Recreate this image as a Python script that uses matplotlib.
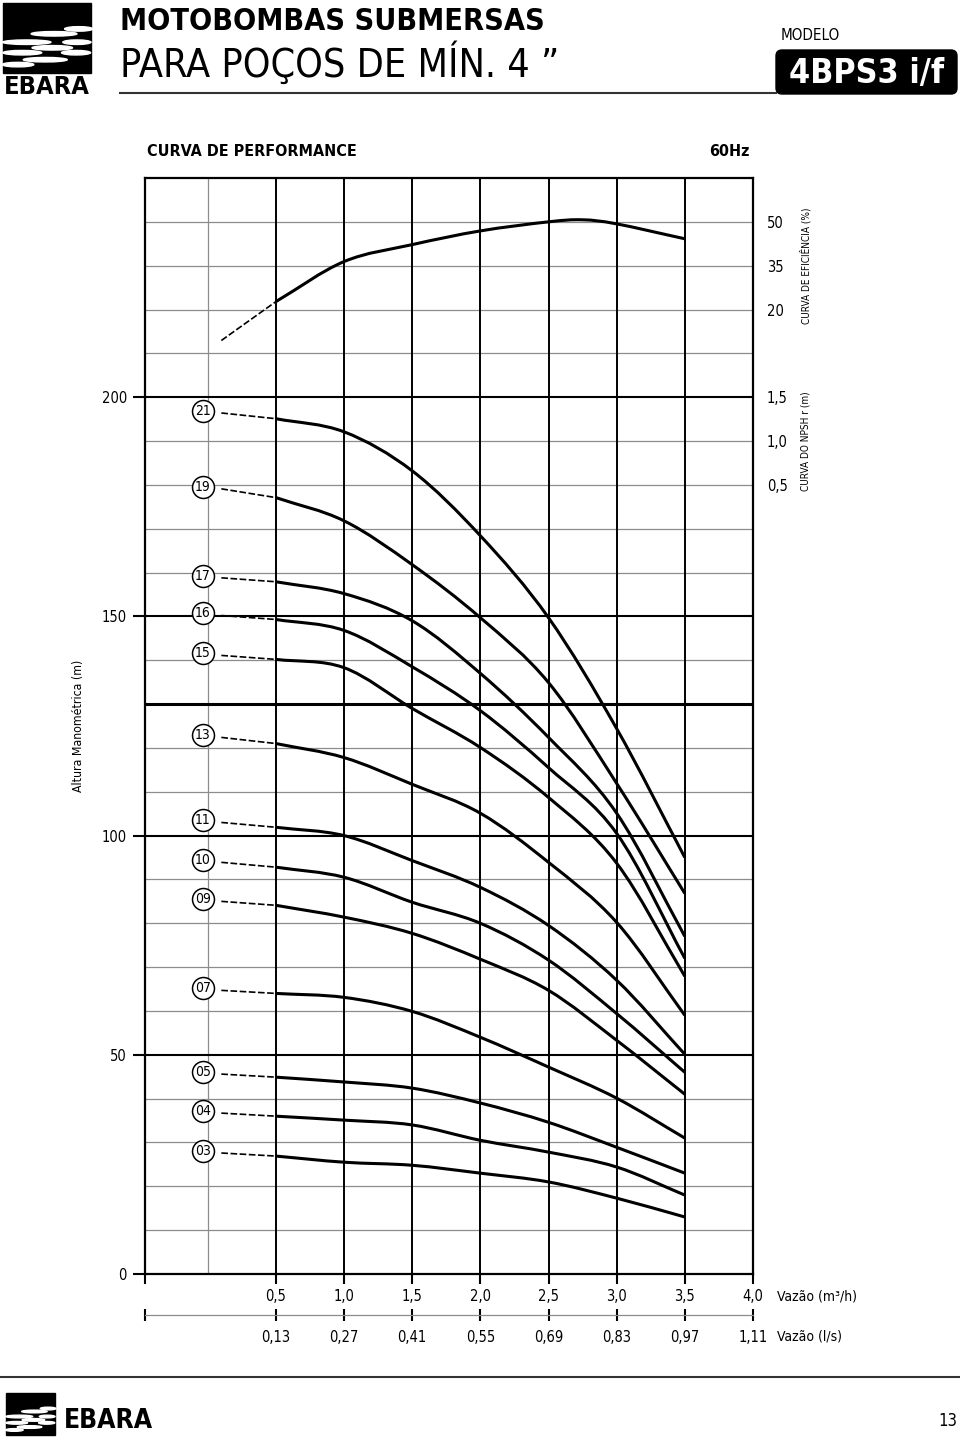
import numpy as np
import matplotlib.pyplot as plt
from matplotlib import font_manager as fm
from matplotlib.path import Path
from matplotlib.patches import PathPatch, Ellipse, FancyBboxPatch, Rectangle

# fonte condensada se existir, senão Liberation Sans
fontes = fm.fontManager.ttflist
if any(f.name == 'Liberation Sans Narrow' for f in fontes):
    plt.rcParams['font.family'] = ['Liberation Sans Narrow', 'DejaVu Sans']
elif any(f.name == 'DejaVu Sans' and f.stretch == 'condensed' for f in fontes):
    plt.rcParams['font.family'] = ['DejaVu Sans']
    plt.rcParams['font.stretch'] = 'condensed'
else:
    plt.rcParams['font.family'] = ['Liberation Sans', 'DejaVu Sans']

# vazão (m3/h) onde as curvas foram lidas
vazao = [0.5, 1.0, 1.5, 2.0, 2.5, 3.0, 3.5]
vazao_ini = 0.1      # início do trecho tracejado
x_etiqueta = -0.036  # posição dos círculos com nº de estágios

# altura manométrica (m) por nº de estágios
estagios = ["21", "19", "17", "16", "15", "13", "11", "10", "09", "07", "05", "04", "03"]
altura_ini = [196.4, 179.1, 158.8, 150.2, 141.1, 122.4, 103.0, 93.9, 85.0, 64.7, 45.6, 36.7, 27.6]
h21 = [195.1, 192.1, 183.2, 168.4, 149.7, 124.4, 95.0]
h19 = [177.1, 171.8, 161.8, 149.7, 134.9, 111.9, 86.8]
h17 = [157.9, 155.2, 149.0, 137.0, 122.4, 105.1, 77.0]
h16 = [149.3, 146.8, 138.5, 128.5, 115.5, 100.5, 72.0]
h15 = [140.2, 138.3, 129.0, 120.1, 108.7, 93.7, 67.9]
h13 = [121.0, 117.8, 111.7, 105.1, 93.9, 80.2, 59.0]
h11 = [101.9, 100.0, 94.3, 88.2, 79.5, 67.0, 50.1]
h10 = [92.8, 90.5, 84.8, 80.0, 71.6, 59.4, 46.0]
h09 = [84.1, 81.4, 77.7, 71.8, 64.7, 53.3, 41.0]
h07 = [64.0, 63.1, 59.9, 54.0, 47.2, 40.1, 31.0]
h05 = [44.9, 43.8, 42.4, 39.0, 34.6, 28.9, 23.0]
h04 = [36.0, 35.1, 34.0, 30.5, 27.8, 24.4, 18.0]
h03 = [26.9, 25.5, 24.8, 23.0, 21.0, 17.3, 13.0]
curvas = [h21, h19, h17, h16, h15, h13, h11, h10, h09, h07, h05, h04, h03]

# curva de eficiência (%)
eff_vazao = [0.1, 0.5, 1.0, 1.5, 2.0, 2.5, 2.75, 3.0, 3.5]
eff = [9.4, 22.7, 36.4, 42.2, 46.9, 50.0, 50.7, 49.3, 44.2]

# eixos
vazao_ticks = [0.5, 1.0, 1.5, 2.0, 2.5, 3.0, 3.5, 4.0]
vazao_m3h = ["0,5", "1,0", "1,5", "2,0", "2,5", "3,0", "3,5", "4,0"]
vazao_ls = ["0,13", "0,27", "0,41", "0,55", "0,69", "0,83", "0,97", "1,11"]
altura_ticks = [0, 50, 100, 150, 200]
eff_ticks = [20, 35, 50]
npsh_ticks = [0.5, 1.0, 1.5]
npsh_labels = ["0,5", "1,0", "1,5"]

XMIN = -0.46
CINZA = '#8c8c8c'


def suave(ax, xs, ys, lw=2.2):
    # catmull-rom convertido em bezier, desenhado pelo Path do matplotlib
    x = np.asarray(xs, float)
    y = np.asarray(ys, float)
    px = np.r_[2 * x[0] - x[1], x, 2 * x[-1] - x[-2]]
    py = np.r_[2 * y[0] - y[1], y, 2 * y[-1] - y[-2]]
    verts = [(x[0], y[0])]
    codes = [Path.MOVETO]
    for i in range(1, len(px) - 2):
        c1 = (px[i] + (px[i + 1] - px[i - 1]) / 6, py[i] + (py[i + 1] - py[i - 1]) / 6)
        c2 = (px[i + 1] - (px[i + 2] - px[i]) / 6, py[i + 1] - (py[i + 2] - py[i]) / 6)
        verts += [c1, c2, (px[i + 1], py[i + 1])]
        codes += [Path.CURVE4] * 3
    ax.add_patch(PathPatch(Path(verts, codes), fill=False, lw=lw, color='black',
                           joinstyle='round', capstyle='butt', zorder=4))


def logo(ov, x0, y0, w, h):
    ov.add_patch(Rectangle((x0, y0), w, h, color='black', zorder=2))
    # faixas brancas (posições relativas ao quadrado)
    faixas = [(0.86, 0.37, 0.32), (0.58, 0.44, 0.52), (0.27, 0.56, 0.55), (0.84, 0.56, 0.32),
              (0.56, 0.64, 0.46), (0.22, 0.71, 0.44), (0.83, 0.71, 0.33), (0.48, 0.81, 0.50),
              (0.17, 0.88, 0.36)]
    for fx, fy, fw in faixas:
        ov.add_patch(Ellipse((x0 + fx * w, y0 + fy * h), fw * w, 0.065 * h,
                             color='white', zorder=3))


fig = plt.figure(figsize=(9.6, 14.37), dpi=100)


def ajusta(t, largura):
    # acerta o tamanho da fonte para a largura (px) vista na referência
    r = fig.canvas.get_renderer()
    w = t.get_window_extent(r).width
    t.set_fontsize(t.get_fontsize() * largura / w)


ax = fig.add_axes([145 / 960, 1 - 1274 / 1437, 608 / 960, 1096 / 1437])
ax.set_xlim(XMIN, 4.0)
ax.set_ylim(0, 250)

# grade
for h in range(10, 250, 10):
    if h in (50, 100, 150, 200):
        ax.axhline(h, color='black', lw=1.5, zorder=2)
    elif h == 130:
        ax.axhline(h, color='black', lw=2.2, zorder=2)
    else:
        ax.axhline(h, color=CINZA, lw=0.9, zorder=1)
ax.axvline(0, color=CINZA, lw=0.9, zorder=1)
for v in vazao_ticks[:-1]:
    ax.axvline(v, color='black', lw=1.4, zorder=2)

for s in ax.spines.values():
    s.set_linewidth(1.6)

ax.set_yticks(altura_ticks)
ax.tick_params(axis='y', direction='out', length=9, width=1.5, pad=4, labelsize=10.5)
ax.set_xticks([XMIN] + vazao_ticks, [""] + vazao_m3h)
ax.tick_params(axis='x', direction='out', length=7, width=1.5, pad=4, labelsize=10.5)

ax.text(-0.110, 0.5, "Altura Manométrica (m)", transform=ax.transAxes, rotation=90,
        ha='center', va='center', fontsize=8.8)

# segundo eixo de vazão (l/s)
sec = ax.secondary_xaxis(-41 / 1096)
sec.set_xticks([XMIN] + vazao_ticks, [""] + vazao_ls)
sec.tick_params(direction='inout', length=9, width=1.5, pad=6, labelsize=10.5)
sec.spines['bottom'].set_color(CINZA)
sec.spines['bottom'].set_linewidth(0.9)

# curvas de altura
for nome, h0, curva in zip(estagios, altura_ini, curvas):
    ax.plot([vazao_ini, vazao[0]], [h0, curva[0]], color='black', lw=1.2,
            ls=(0, (4, 1.5)), zorder=4)
    suave(ax, vazao, curva)
    ax.scatter([x_etiqueta], [h0 + 0.5], s=250, marker='o', facecolor='white',
               edgecolor='black', linewidth=1.1, zorder=5)
    ax.text(x_etiqueta, h0 + 0.5, nome, ha='center', va='center', fontsize=10, zorder=6)

# eficiência (eixo secundário)
ax_e = ax.twinx()
ax_e.set_ylim(-310, 65)
ax_e.set_yticks(eff_ticks)
ax_e.tick_params(axis='y', length=0, pad=10, labelsize=10.5)
for s in ax_e.spines.values():
    s.set_visible(False)
ax_e.plot(eff_vazao[:2], eff[:2], color='black', lw=1.2, ls=(0, (4, 1.5)))
suave(ax_e, eff_vazao[1:], eff[1:])

# NPSH (só escala)
ax_n = ax.twinx()
ax_n.set_ylim(-8.5, 4.0)
ax_n.set_yticks(npsh_ticks, npsh_labels)
ax_n.tick_params(axis='y', length=0, pad=10, labelsize=10.5)
for s in ax_n.spines.values():
    s.set_visible(False)

tr = ax.get_yaxis_transform()
ax.text(1.087, 230, "CURVA DE EFICIÊNCIA (%)", transform=tr, rotation=90,
        ha='center', va='center', fontsize=7.2)
ax.text(1.087, 190, "CURVA DO NPSH r (m)", transform=tr, rotation=90,
        ha='center', va='center', fontsize=7.2)

# cabeçalho / rodapé em coordenadas de pixel
ov = fig.add_axes([0, 0, 1, 1])
ov.set_xlim(0, 960)
ov.set_ylim(1437, 0)
ov.axis('off')

logo(ov, 3, 3, 88, 70)
t = ov.text(47, 87, "EBARA", ha='center', va='center', fontsize=17, fontweight='bold')
ajusta(t, 86)
t = ov.text(120, 21, "MOTOBOMBAS SUBMERSAS", ha='left', va='center', fontsize=24,
            fontweight='bold')
ajusta(t, 425)
t = ov.text(120, 63, "PARA POÇOS DE MÍN. 4 ”", ha='left', va='center', fontsize=27)
ajusta(t, 440)
ov.plot([120, 776], [93, 93], color='#333333', lw=1.5)
t = ov.text(781, 36, "MODELO", ha='left', va='center', fontsize=11.5)
ajusta(t, 59)
ov.add_patch(FancyBboxPatch((776, 50), 181, 44, boxstyle='round,pad=0,rounding_size=6',
                            color='black'))
t = ov.text(867, 73, "4BPS3 i/f", ha='center', va='center', fontsize=30, fontweight='bold',
            color='white')
ajusta(t, 155)

ov.text(147, 151, "CURVA DE PERFORMANCE", ha='left', va='center', fontsize=11.5,
        fontweight='bold')
ov.text(750, 151, "60Hz", ha='right', va='center', fontsize=11.5, fontweight='bold')

ov.text(777, 1296, "Vazão (m³/h)", ha='left', va='center', fontsize=10)
ov.text(777, 1337, "Vazão (l/s)", ha='left', va='center', fontsize=10)

ov.plot([0, 960], [1377, 1377], color='#333333', lw=1.5)
logo(ov, 6, 1393, 49, 42)
t = ov.text(64, 1421, "EBARA", ha='left', va='center', fontsize=18, fontweight='bold')
ajusta(t, 89)
ov.text(957, 1421, "13", ha='right', va='center', fontsize=12)

fig.savefig("out.png", dpi=100)
